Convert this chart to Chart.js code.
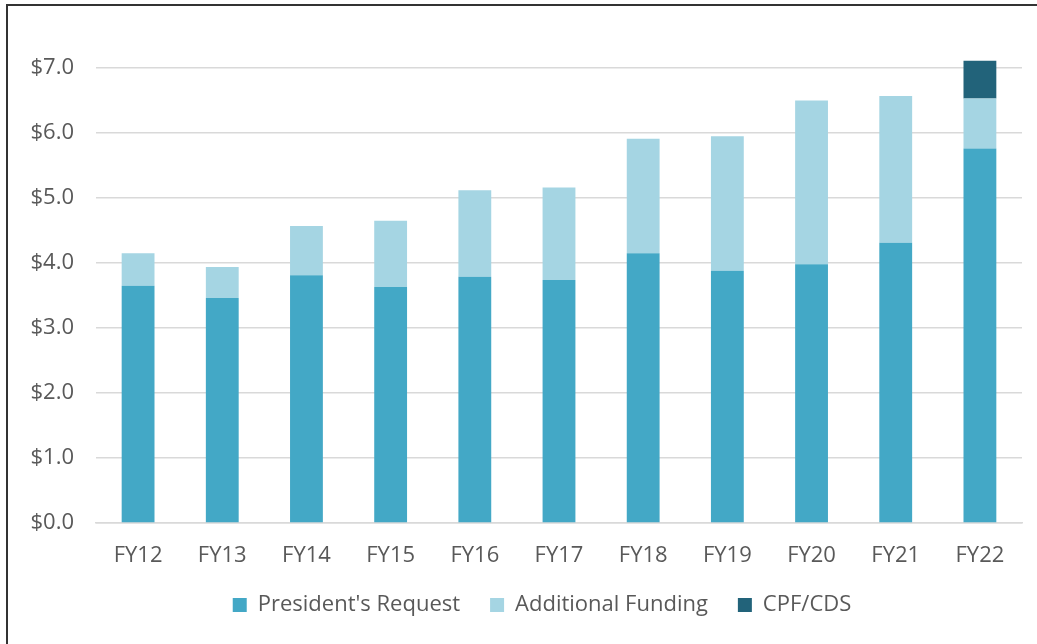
<!DOCTYPE html>
<html>
<head>
<meta charset="utf-8">
<script src="https://cdn.jsdelivr.net/npm/chart.js@4"></script>
<style>
  html, body { margin: 0; padding: 0; background: #fff; }
  #wrap { position: relative; width: 1037px; height: 644px; overflow: hidden; }
  #frame { position: absolute; left: 6px; top: 4px; width: 1100px; height: 700px;
           border-top: 2px solid #333; border-left: 2px solid #333; }
  #chart { position: absolute; left: 0; top: 0; }
</style>
</head>
<body>
<div id="wrap">
  <div id="frame"></div>
  <canvas id="chart" width="1037" height="644"></canvas>
</div>
<script>
let years = ["FY12", "FY13", "FY14", "FY15", "FY16", "FY17", "FY18", "FY19", "FY20", "FY21", "FY22"];
let presidentsRequest = [3.65, 3.46, 3.81, 3.63, 3.79, 3.74, 4.15, 3.88, 3.98, 4.31, 5.76];
let additionalFunding = [0.50, 0.48, 0.76, 1.02, 1.33, 1.42, 1.76, 2.07, 2.52, 2.26, 0.77];
let cpfCds = [0, 0, 0, 0, 0, 0, 0, 0, 0, 0, 0.58];

let textColor = "#595959";
let font = { family: "'Open Sans', sans-serif", size: 22 };

function mkset(label, data, color) {
  return {
    label: label,
    data: data,
    backgroundColor: color,
    borderWidth: 0,
    categoryPercentage: 1,
    barPercentage: 0.39,
    clip: false
  };
}

// nudge the legend so it sits where the reference puts it
let legendShift = {
  id: "legendShift",
  afterLayout(chart) {
    let lg = chart.legend;
    let dx = 31, dy = -18;
    lg.left += dx; lg.right += dx;
    lg.top += dy; lg.bottom += dy;
  }
};

window.onload = function () {
  new Chart(document.getElementById("chart"), {
    type: "bar",
    data: {
      labels: years,
      datasets: [
        mkset("President's Request", presidentsRequest, "#43A8C6"),
        mkset("Additional Funding", additionalFunding, "#A5D5E3"),
        mkset("CPF/CDS", cpfCds, "#22637A")
      ]
    },
    options: {
      responsive: false,
      animation: false,
      layout: { padding: { top: 68, right: 15, left: 0, bottom: 0 } },
      plugins: {
        legend: {
          position: "bottom",
          labels: { color: textColor, font: font, boxWidth: 14, boxHeight: 14, padding: 30 }
        },
        tooltip: { enabled: false }
      },
      scales: {
        x: {
          stacked: true,
          grid: { display: false },
          border: { color: "#d9d9d9", width: 1.5 },
          ticks: { color: textColor, font: font, padding: 12 },
          afterFit: function (s) { s.height = 59; }
        },
        y: {
          stacked: true,
          min: 0,
          max: 7,
          ticks: {
            stepSize: 1,
            color: textColor,
            font: font,
            padding: 22,
            callback: v => "$" + v.toFixed(1)
          },
          grid: { color: "#d9d9d9", lineWidth: 1.5, drawTicks: false },
          border: { display: false },
          afterFit: function (s) { s.width = 96; }
        }
      }
    },
    plugins: [legendShift]
  });
};
</script>
</body>
</html>
